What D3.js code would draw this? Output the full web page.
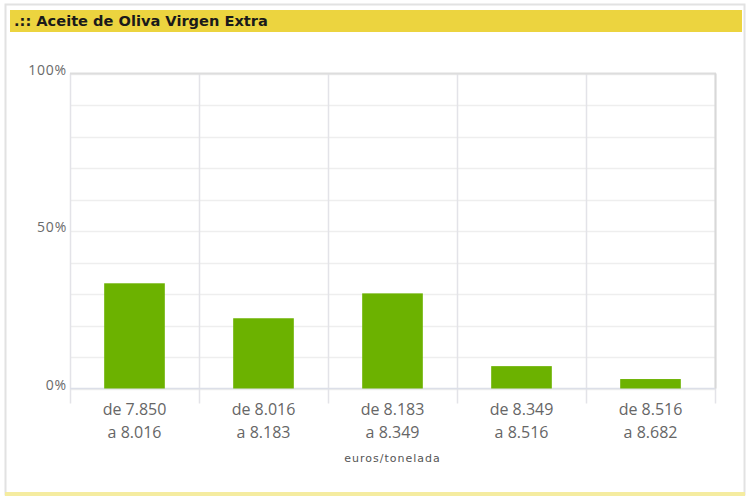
<!DOCTYPE html>
<html>
<head>
<meta charset="utf-8">
<script src="https://cdn.jsdelivr.net/npm/d3@7"></script>
<style>
  html, body { margin: 0; padding: 0; background: #fff; }
  svg { display: block; }
</style>
</head>
<body>
<svg id="chart" width="750" height="500"></svg>
<script>
const title = ".:: Aceite de Oliva Virgen Extra";
const categoriesLine1 = ["de 7.850", "de 8.016", "de 8.183", "de 8.349", "de 8.516"];
const categoriesLine2 = ["a 8.016", "a 8.183", "a 8.349", "a 8.516", "a 8.682"];
const values = [33.4, 22.3, 30.2, 7.1, 3.0];
const yTickLabels = [0, 50, 100];
const yGridValues = [0, 10, 20, 30, 40, 50, 60, 70, 80, 90, 100];
const xAxisTitle = "euros/tonelada";

const svg = d3.select("#chart");

// outer panel
svg.append("rect").attr("x", 0).attr("y", 0).attr("width", 750).attr("height", 500).attr("fill", "#fff");
svg.append("rect").attr("x", 5.5).attr("y", 4.5).attr("width", 739).attr("height", 490)
  .attr("fill", "none").attr("stroke", "#e2e2e2").attr("stroke-width", 2);
svg.append("rect").attr("x", 5).attr("y", 492).attr("width", 740).attr("height", 4).attr("fill", "#f5eca0");
// title bar
svg.append("rect").attr("x", 10).attr("y", 10).attr("width", 732).attr("height", 22).attr("fill", "#ecd43f");
svg.append("text").attr("x", 14).attr("y", 26)
  .attr("font-family", "DejaVu Sans, Verdana, sans-serif").attr("font-weight", "bold")
  .attr("font-size", 14.6).attr("fill", "#1a1a1a").text(title);

const plot = { left: 70, right: 715, top: 73.5, bottom: 388.5 };
const idx = d3.range(values.length);
const x = d3.scaleBand().domain(idx).range([plot.left, plot.right]).padding(0);
const y = d3.scaleLinear().domain([0, 100]).range([plot.bottom, plot.top]);

const g = svg.append("g");

// horizontal grid
g.selectAll(".hgrid").data(yGridValues).enter().append("line")
  .attr("x1", plot.left).attr("x2", plot.right)
  .attr("y1", d => Math.round(y(d)) + 0.5).attr("y2", d => Math.round(y(d)) + 0.5)
  .attr("stroke", "#eeeeee").attr("stroke-width", 1.5);

// vertical grid at category boundaries (including tick extension below axis)
const bounds = idx.map(i => x(i)).concat([x(idx[idx.length - 1]) + x.bandwidth()]);
g.selectAll(".vgrid").data(bounds).enter().append("line")
  .attr("x1", d => Math.round(d) + 0.5).attr("x2", d => Math.round(d) + 0.5)
  .attr("y1", plot.top).attr("y2", plot.bottom + 15)
  .attr("stroke", "#e3e3e8").attr("stroke-width", 1.5);

// plot border top/right
g.append("line").attr("x1", plot.left).attr("x2", plot.right + 1).attr("y1", plot.top).attr("y2", plot.top)
  .attr("stroke", "#dddddd").attr("stroke-width", 2);
g.append("line").attr("x1", plot.right + 0.5).attr("x2", plot.right + 0.5).attr("y1", plot.top).attr("y2", plot.bottom)
  .attr("stroke", "#d8d8d8").attr("stroke-width", 2);
// x axis baseline
g.append("line").attr("x1", plot.left).attr("x2", plot.right).attr("y1", plot.bottom).attr("y2", plot.bottom)
  .attr("stroke", "#dcdfe8").attr("stroke-width", 1.5);

// bars
const barRatio = 0.47;
g.selectAll(".bar").data(values).enter().append("rect")
  .attr("x", (d, i) => x(i) + x.bandwidth() * (1 - barRatio) / 2)
  .attr("width", x.bandwidth() * barRatio)
  .attr("y", d => y(d))
  .attr("height", d => y(0) - y(d))
  .attr("fill", "#6cb200");

// y labels
g.selectAll(".ylab").data(yTickLabels).enter().append("text")
  .attr("x", 67).attr("y", d => y(d) + 1)
  .attr("text-anchor", "end")
  .attr("font-family", "Open Sans, sans-serif").attr("font-size", 14)
  .attr("letter-spacing", 0.8)
  .attr("fill", "#6a6a6a").text(d => d + "%");

// x labels
const xl = g.selectAll(".xlab").data(idx).enter().append("text")
  .attr("text-anchor", "middle")
  .attr("font-family", "Open Sans, sans-serif").attr("font-size", 16)
  .attr("fill", "#666");
xl.append("tspan").attr("x", i => x(i) + x.bandwidth() / 2).attr("y", 415).text(i => categoriesLine1[i]);
xl.append("tspan").attr("x", i => x(i) + x.bandwidth() / 2).attr("y", 438).text(i => categoriesLine2[i]);

// axis title
g.append("text").attr("x", (plot.left + plot.right) / 2).attr("y", 462)
  .attr("text-anchor", "middle")
  .attr("font-family", "DejaVu Sans, sans-serif").attr("font-size", 11)
  .attr("letter-spacing", 1)
  .attr("fill", "#555").text(xAxisTitle);
</script>
</body>
</html>
